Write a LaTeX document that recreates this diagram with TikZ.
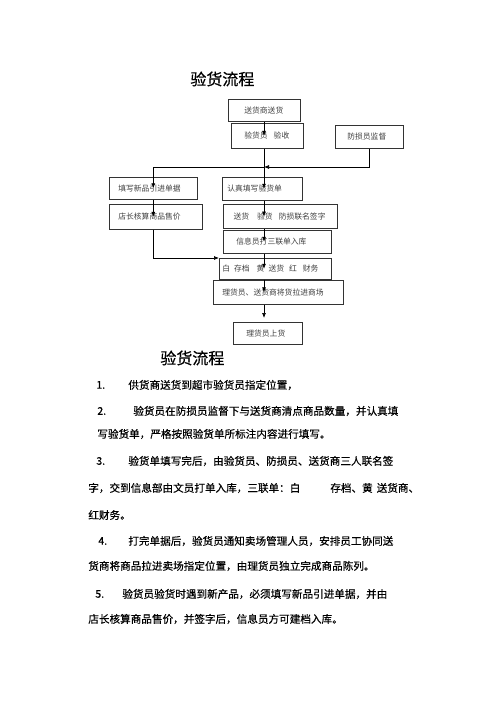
\documentclass[tikz,border=0pt]{standalone}
\usepackage{fontspec}
\newfontfamily\cjk{Noto Sans CJK SC}
\newfontfamily\cjkbf[FakeBold=0.4]{Noto Sans CJK SC}
\usetikzlibrary{arrows.meta}
\tikzset{
  box/.style={draw=black!80, line width=0.6pt, anchor=north west, inner ysep=0pt, align=left,
    font=\cjk\fontsize{7.8}{9}\selectfont, text=black!75},
  textline/.style={anchor=west, inner sep=0pt, font=\cjkbf\fontsize{10.6}{12}\selectfont},
  heading/.style={anchor=west, inner sep=0pt, font=\cjkbf\fontsize{16}{18}\selectfont},
}
\begin{document}
\begin{tikzpicture}[x=1pt, y=-1pt, >={Latex[length=5pt,width=4pt]}, line width=0.7pt]
    \useasboundingbox (0,0) rectangle (500,708);
    \node[heading] (title) at (190,79) {验货流程};
    \node[box, text width=40pt, inner xsep=16pt, minimum height=22pt] (shs) at (228,99) {送货商送货};
    \node[box, text width=46pt, inner xsep=13pt, minimum height=25pt] (yhy) at (231,123) {验货员\hspace{6pt}验收};
    \node[box, text width=44pt, inner xsep=12pt, minimum height=23pt] (fsy) at (335,125) {防损员监督};
    \node[box, text width=70pt, inner xsep=9pt, minimum height=22pt] (txxp) at (109,177) {填写新品引进单据};
    \node[box, text width=70pt, inner xsep=5pt, minimum height=23pt] (rztx) at (222,177) {认真填写验货单};
    \node[box, text width=75pt, inner xsep=9pt, minimum height=25pt] (dzhs) at (109,204) {店长核算商品售价};
    \node[box, line width=1.2pt, text width=94pt, inner xsep=10pt, minimum height=24pt] (lmqz) at (223,204) {送货\hspace{8pt}验货\hspace{6pt}防损联名签字};
    \node[box, text width=82pt, inner xsep=13pt, minimum height=23pt] (xxy) at (223,230) {信息员打三联单入库};
    \node[box, text width=106pt, inner xsep=3pt, minimum height=21pt] (slian) at (219,258) {白\hspace{4pt}存档\hspace{7pt}黄\hspace{4pt}送货\hspace{5pt}红\hspace{6pt}财务};
    \node[box, text width=112pt, inner xsep=9pt, minimum height=24pt] (llsc) at (213,280) {理货员、送货商将货拉进商场};
    \node[box, text width=43pt, inner xsep=13pt, minimum height=22pt] (lhsh) at (233,322) {理货员上货};
    \coordinate (sp) at (264,0);
    \coordinate (jn) at (264,167);
    \draw[->] (shs.south -| sp) -- (yhy.center -| sp);
    \draw[->] (yhy.south -| sp) -- (rztx.center -| sp);
    \draw[->] (fsy.south) |- (jn);
    \draw[->] (jn) -| (txxp.center);
    \draw[->] (txxp.south) -- (txxp.south |- dzhs.center);
    \draw[->] (txxp.south |- dzhs.south) |- (slian.north west);
    \draw[->] (rztx.south -| sp) -- (lmqz.center -| sp);
    \draw[->] (lmqz.south -| sp) -- (xxy.center -| sp);
    \draw[->] (xxy.south -| sp) -- (slian.center -| sp);
    \draw[->] (slian.south -| sp) -- (llsc.center -| sp);
    \draw[->, shorten >=4pt] (llsc.south -| sp) -- (lhsh.north -| sp);
    \node[heading] (title2) at (160,358) {验货流程};
    \node[textline] (n1) at (96,385) {1.};
    \node[textline] (t1) at (128,385) {供货商送货到超市验货员指定位置，};
    \node[textline] (n2) at (97,411) {2.};
    \node[textline] (t2a) at (133,411) {验货员在防损员监督下与送货商清点商品数量，并认真填};
    \node[textline] (t2b) at (97,434) {写验货单，严格按照验货单所标注内容进行填写。};
    \node[textline] (n3) at (96,461) {3.};
    \node[textline] (t3a) at (128,461) {验货单填写完后，由验货员、防损员、送货商三人联名签};
    \node[textline] (t3b) at (88,488) {字，交到信息部由文员打单入库，三联单：白\hspace{30pt}存档、黄\hspace{4pt}送货商、};
    \node[textline] (t3c) at (88,515) {红财务。};
    \node[textline] (n4) at (98,541) {4.};
    \node[textline] (t4a) at (128,541) {打完单据后，验货员通知卖场管理人员，安排员工协同送};
    \node[textline] (t4b) at (88,566) {货商将商品拉进卖场指定位置，由理货员独立完成商品陈列。};
    \node[textline] (n5) at (95,594) {5.};
    \node[textline] (t5a) at (122,594) {验货员验货时遇到新产品，必须填写新品引进单据，并由};
    \node[textline] (t5b) at (88,619) {店长核算商品售价，并签字后，信息员方可建档入库。};
\end{tikzpicture}
\end{document}
